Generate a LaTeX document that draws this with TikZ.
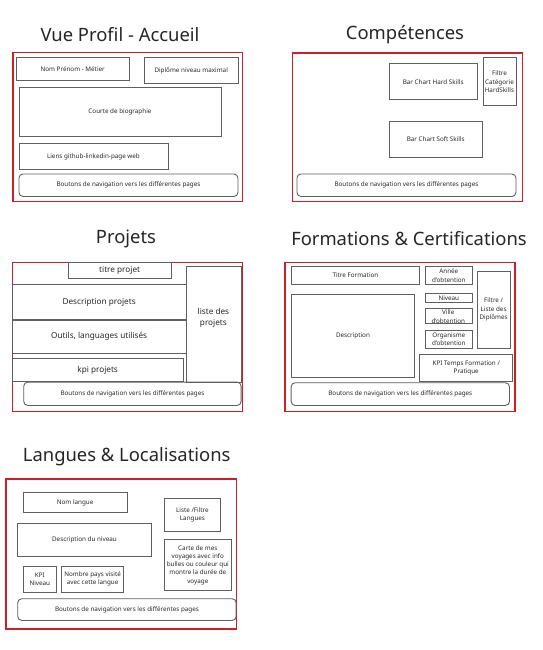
\documentclass[tikz,border=0pt]{standalone}
\usepackage{fontspec}
\setmainfont{Noto Sans}
\definecolor{redc}{RGB}{206,32,36}
\definecolor{boxgray}{RGB}{95,95,95}
\definecolor{txt}{RGB}{40,40,40}
\newcommand\wfbox[7][]{%
  \pgfmathsetmacro\ww{#5-#3}\pgfmathsetmacro\hh{#6-#4}%
  \node[box,#1,anchor=north west,minimum width=\ww pt,minimum height=\hh pt] (#2) at (#3,#4) {#7};}
\newcommand\wfpanel[5]{%
  \pgfmathsetmacro\ww{#4-#2}\pgfmathsetmacro\hh{#5-#3}%
  \node[panel,anchor=north west,minimum width=\ww pt,minimum height=\hh pt] (#1) at (#2,#3) {};}
\tikzset{
  box/.style={draw=boxgray, line width=0.9pt, inner sep=0pt, align=center, text=txt,
    font=\fontsize{6.3}{8.2}\selectfont},
  panel/.style={draw=redc, line width=1.5pt, inner sep=0pt},
  nav/.style={rounded corners=4pt},
  bigtxt/.style={font=\fontsize{8.2}{11.5}\selectfont},
  title/.style={text=black!85, font=\fontsize{18.4}{21}\selectfont, inner sep=0pt}
}
\begin{document}
\begin{tikzpicture}[x=1pt,y=-1pt]
\useasboundingbox[fill=white] (0,0) rectangle (543,650);
% ---------- Vue Profil ----------
\node[title] (t1) at (120,35) {Vue Profil - Accueil};
\wfpanel{p1}{12}{52}{241.5}{200.5}
\wfbox{nom}{16}{57.5}{128.5}{80}{Nom Prénom - Métier}
\wfbox{diplome}{144}{57.5}{237.5}{83.5}{Diplôme niveau maximal}
\wfbox{bio}{18.5}{87.5}{220.5}{135.5}{Courte de biographie}
\wfbox{liens}{18.5}{143}{167.5}{169}{Liens github-linkedin-page web}
\wfbox[nav]{nav1}{18.5}{173.5}{237.5}{196}{Boutons de navigation vers les différentes pages}
% ---------- Compétences ----------
\node[title] (t2) at (405,35) {Compétences};
\wfpanel{p2}{291.5}{52.5}{521.5}{200.5}
\wfbox{hard}{389}{63.5}{476.5}{99.5}{Bar Chart Hard Skills}
\wfbox{filtre}{482.5}{57.5}{515.5}{105}{Filtre\\Catégorie\\HardSkills}
\wfbox{soft}{389}{121.5}{481.5}{156.5}{Bar Chart Soft Skills}
\wfbox[nav]{nav2}{296.5}{173.5}{515.5}{196}{Boutons de navigation vers les différentes pages}
% ---------- Projets ----------
\node[title] (t3) at (126,239) {Projets};
\wfpanel{p3}{11.7}{261.7}{241.5}{410.5}
\wfbox[bigtxt]{titre}{67.7}{261.7}{170.7}{277.7}{titre projet}
\wfbox[bigtxt]{desc}{11.7}{284.3}{185.7}{319.3}{Description projets}
\wfbox[bigtxt]{outils}{11.7}{320}{185.7}{352.7}{Outils, languages utilisés}
\wfbox[bigtxt]{kpi}{11.7}{358.3}{182.7}{381}{kpi projets}
\wfbox[bigtxt]{liste}{186}{266}{240.7}{381.7}{}
\node[bigtxt, text=txt, align=center, inner sep=0pt] (listetxt) at (213.4,318) {liste des\\projets};
\wfbox[nav]{nav3}{23.3}{381.7}{240.7}{405}{Boutons de navigation vers les différentes pages}
% ---------- Formations ----------
\node[title] (t4) at (409,239) {Formations \& Certifications};
\wfpanel{p4}{284}{261.7}{514.3}{410.5}
\wfbox{tform}{290.7}{266}{419.3}{284.3}{Titre Formation}
\wfbox{annee}{425}{266}{471.7}{284.3}{Année\\d'obtention}
\wfbox{filtre4}{477.3}{271}{510}{347.7}{}
\node[box, draw=none] (filtretxt) at (493.6,309.5) {Filtre /\\Liste des\\Diplômes};
\wfbox{descf}{290.7}{294.3}{414.3}{376.7}{Description}
\wfbox{niveau}{425}{293.3}{471.7}{301.7}{Niveau}
\wfbox{ville}{425}{307.7}{471.7}{323.3}{}
\node[box, draw=none] (villetxt) at (448.3,317) {Ville\\[0.8pt]d'obtention};
\wfbox{orga}{425}{330}{471.7}{348.3}{Organisme\\d'obtention}
\wfbox{kpif}{419.3}{354.3}{512.3}{381}{KPI Temps Formation /\\Pratique}
\wfbox[nav]{nav4}{290.7}{382.3}{509}{405}{Boutons de navigation vers les différentes pages}
% ---------- Langues ----------
\node[title] (t5) at (126.7,456.7) {Langues \& Localisations};
\wfpanel{p5}{5}{478.3}{235.7}{628.3}
\wfbox{nomlang}{22.7}{492.3}{126.7}{511.7}{Nom langue}
\wfbox{listel}{164}{497.7}{220}{531}{Liste /Filtre\\Langues}
\wfbox{descn}{17.3}{523.3}{150.7}{556}{Description du niveau}
\wfbox{carte}{164}{539.3}{230.7}{590}{Carte de mes\\voyages avec info\\bulles ou couleur qui\\montre la durée de\\voyage}
\wfbox{kpin}{22.7}{565.7}{56}{591.7}{KPI\\Niveau}
\wfbox{pays}{61}{565.7}{123.3}{591.7}{Nombre pays visité\\avec cette langue}
\wfbox[nav]{nav5}{17.3}{598.3}{235.7}{620}{Boutons de navigation vers les différentes pages}
\end{tikzpicture}
\end{document}
